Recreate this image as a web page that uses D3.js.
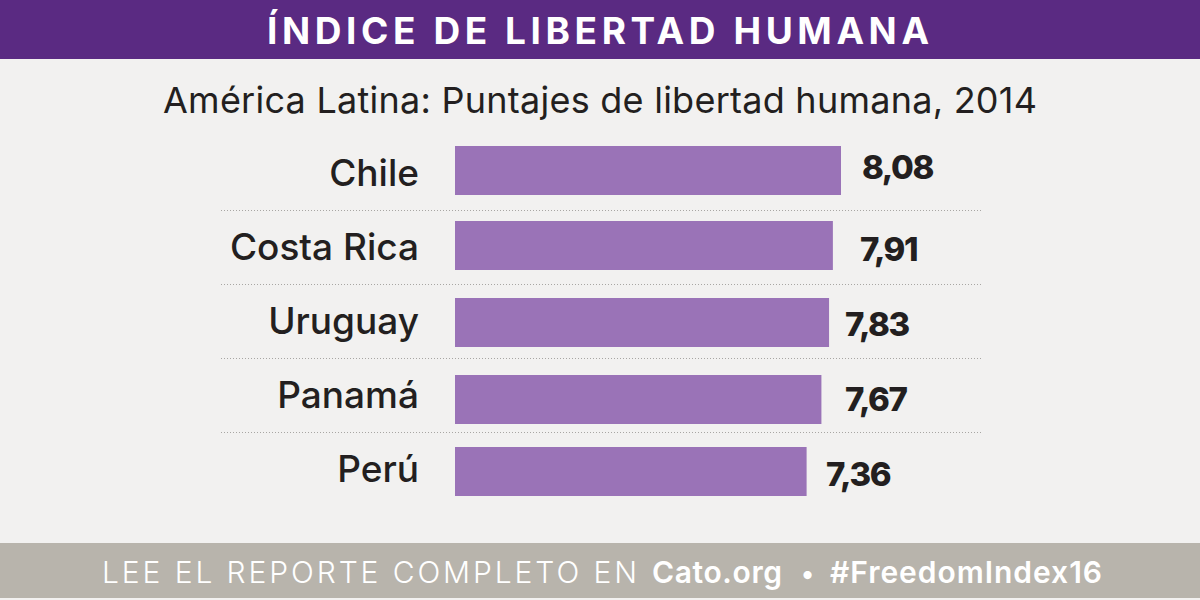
<!DOCTYPE html>
<html>
<head>
<meta charset="utf-8">
<script src="https://cdnjs.cloudflare.com/ajax/libs/d3/7.8.5/d3.min.js"></script>
<style>
  html, body { margin: 0; padding: 0; background: #f2f1f0; }
  svg { display: block; font-family: Inter, sans-serif; }
</style>
</head>
<body>
<div id="chart"></div>
<script>
const countries = ["Chile", "Costa Rica", "Uruguay", "Panamá", "Perú"];
const scores = [8.08, 7.91, 7.83, 7.67, 7.36];
const scoreLabels = ["8,08", "7,91", "7,83", "7,67", "7,36"];

const svg = d3.select("#chart").append("svg")
    .attr("width", 1200)
    .attr("height", 600);

svg.append("rect").attr("width", 1200).attr("height", 600).attr("fill", "#f2f1f0");
svg.append("rect").attr("width", 1200).attr("height", 59).attr("fill", "#5a2a82");

svg.append("text")
    .attr("x", 267).attr("y", 44)
    .attr("fill", "#fff")
    .attr("font-size", 37).attr("font-weight", 700)
    .attr("textLength", 662).attr("lengthAdjust", "spacing")
    .text("ÍNDICE DE LIBERTAD HUMANA");

svg.append("text")
    .attr("x", 163).attr("y", 113)
    .attr("fill", "#231f20")
    .attr("font-size", 36).attr("font-weight", 400)
    .attr("textLength", 874).attr("lengthAdjust", "spacing")
    .text("América Latina: Puntajes de libertad humana, 2014");

const x = d3.scaleLinear().domain([0, 8.08]).range([455, 841]);

// the rows are not evenly placed in the original, so bars get their own ordinal scale
const barY = d3.scaleOrdinal().domain(countries).range([146, 221, 298, 375, 447]);
const rowY = d3.scalePoint().domain(countries).range([186, 482]);
const valueY = d3.scaleOrdinal().domain(countries).range([179, 261, 336, 411, 486]);
const valueX = d3.scaleOrdinal().domain(countries).range([862, 860, 845, 845, 826]);
const sepY = d3.scalePoint().domain(countries.slice(1)).range([210.5, 432.5]);

svg.selectAll(".bar").data(countries).enter().append("rect")
    .attr("class", "bar")
    .attr("x", x(0))
    .attr("y", d => barY(d))
    .attr("width", (d, i) => x(scores[i]) - x(0))
    .attr("height", 49)
    .attr("fill", "#9a73b7");

svg.selectAll(".name").data(countries).enter().append("text")
    .attr("class", "name")
    .attr("x", 419)
    .attr("y", d => rowY(d))
    .attr("text-anchor", "end")
    .attr("fill", "#231f20")
    .attr("font-size", 37).attr("font-weight", 500)
    .text(d => d);

svg.selectAll(".val").data(countries).enter().append("text")
    .attr("class", "val")
    .attr("x", d => valueX(d))
    .attr("y", d => valueY(d))
    .attr("fill", "#231f20")
    .attr("font-size", 33).attr("font-weight", 800)
    .attr("letter-spacing", -1.4)
    .text((d, i) => scoreLabels[i]);

svg.selectAll(".sep").data(countries.slice(1)).enter().append("line")
    .attr("class", "sep")
    .attr("x1", 221).attr("x2", 983)
    .attr("y1", d => sepY(d))
    .attr("y2", d => sepY(d))
    .attr("stroke", "#a8a6a3").attr("stroke-width", 1).attr("stroke-dasharray", "1 2");

svg.append("rect").attr("y", 543).attr("width", 1200).attr("height", 55).attr("fill", "#b8b4ac");

const footerText = (str, left, width, weight, size) => svg.append("text")
    .attr("x", left).attr("y", 583)
    .attr("fill", "#fff")
    .attr("font-size", size).attr("font-weight", weight)
    .attr("textLength", width).attr("lengthAdjust", "spacing")
    .text(str);

footerText("LEE EL REPORTE COMPLETO EN", 102, 535, 300, 30);
footerText("Cato.org", 652, 130, 600, 30);
footerText("•", 801, 10, 600, 26);
footerText("#FreedomIndex16", 830, 272, 600, 30);
</script>
</body>
</html>
